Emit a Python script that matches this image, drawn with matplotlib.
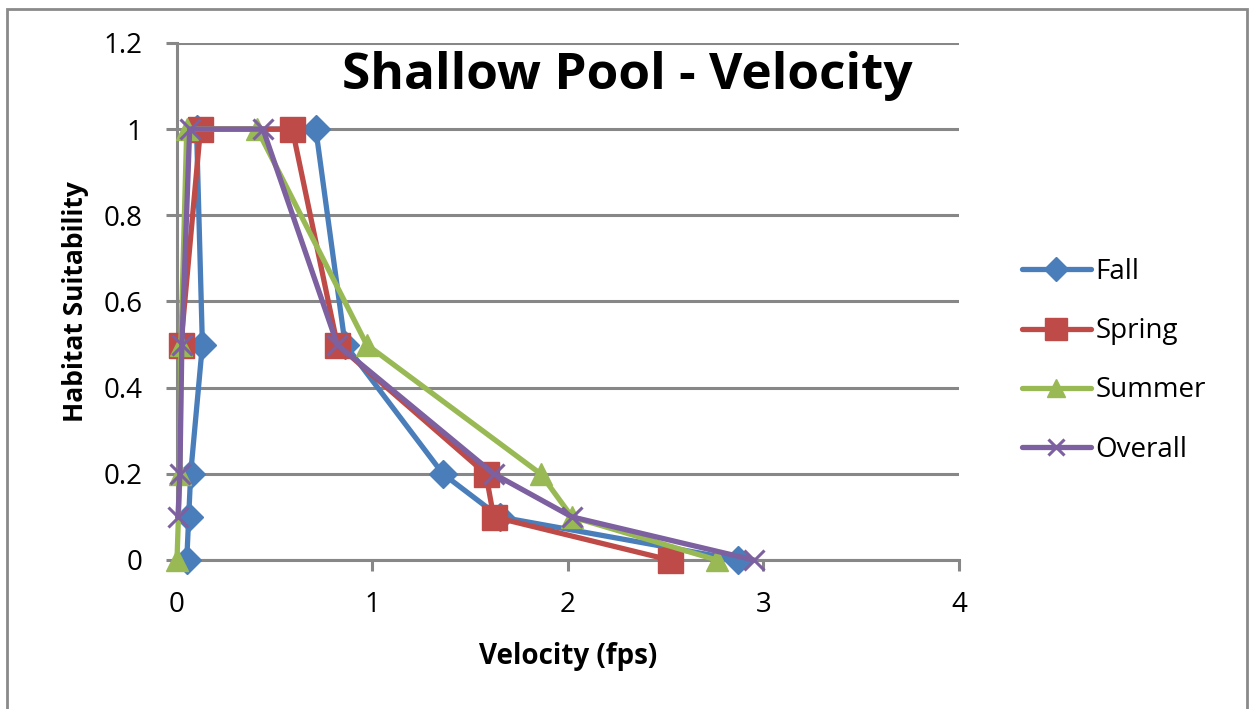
import matplotlib
matplotlib.use("Agg")
import matplotlib.pyplot as plt
from matplotlib.patches import Rectangle

# Data
fall_x = [0.05, 0.06, 0.07, 0.13, 0.10, 0.71, 0.86, 1.36, 1.65, 2.87]
fall_y = [0.0, 0.1, 0.2, 0.5, 1.0, 1.0, 0.5, 0.2, 0.1, 0.0]
spring_x = [0.02, 0.12, 0.59, 0.82, 1.58, 1.62, 2.52]
spring_y = [0.5, 1.0, 1.0, 0.5, 0.2, 0.1, 0.0]
summer_x = [0.0, 0.015, 0.02, 0.05, 0.41, 0.97, 1.86, 2.02, 2.76]
summer_y = [0.0, 0.2, 0.5, 1.0, 1.0, 0.5, 0.2, 0.1, 0.0]
overall_x = [0.005, 0.015, 0.025, 0.065, 0.44, 0.82, 1.62, 2.02, 2.95]
overall_y = [0.1, 0.2, 0.5, 1.0, 1.0, 0.5, 0.2, 0.1, 0.0]

series = [
    ("Fall", fall_x, fall_y, "#4A7EBB", "D", 14),
    ("Spring", spring_x, spring_y, "#BE4B48", "s", 18),
    ("Summer", summer_x, summer_y, "#98B954", "^", 16),
    ("Overall", overall_x, overall_y, "#7D60A0", "x", 14),
]

x_ticks = [0, 1, 2, 3, 4]
y_ticks = [0, 0.2, 0.4, 0.6, 0.8, 1.0, 1.2]
y_tick_labels = ["0", "0.2", "0.4", "0.6", "0.8", "1", "1.2"]

plt.rcParams['font.family'] = ['Open Sans', 'DejaVu Sans']

fig = plt.figure(figsize=(12.49, 7.09), dpi=100)
ax = fig.add_axes([0.1417, 0.2102, 0.6261, 0.7292])

grid_c = "#878787"
for name, xs, ys, c, m, ms in series:
    if m == "x":
        ax.plot(xs, ys, color=c, lw=3.8, marker=m, ms=ms, mew=2.2, mec=c, label=name,
                solid_joinstyle='round', solid_capstyle='round', clip_on=False, zorder=3)
    else:
        ax.plot(xs, ys, color=c, lw=3.8, marker=m, ms=ms, mec=c, mfc=c, label=name,
                solid_joinstyle='round', solid_capstyle='round', clip_on=False, zorder=3)

ax.set_xlim(0, 4)
ax.set_ylim(0, 1.2)
ax.set_xticks(x_ticks)
ax.set_xticklabels([str(t) for t in x_ticks])
ax.set_yticks(y_ticks)
ax.set_yticklabels(y_tick_labels)
ax.yaxis.grid(True, color=grid_c, lw=2.2)
ax.set_axisbelow(True)
for s in ["top", "right"]:
    ax.spines[s].set_visible(False)
for s in ["left", "bottom"]:
    ax.spines[s].set_color(grid_c)
    ax.spines[s].set_linewidth(2.2)
ax.tick_params(axis='both', colors=grid_c, width=2.2, length=8, labelcolor='black',
               labelsize=20)
ax.tick_params(axis='x', pad=14)
ax.tick_params(axis='y', pad=17)

ax.set_xlabel("Velocity (fps)", fontsize=20, fontweight='bold', labelpad=17)
ax.set_ylabel("Habitat Suitability", fontsize=19, fontweight='bold', labelpad=10)

fig.text(0.502, 0.893, "Shallow Pool - Velocity", fontsize=37, fontweight='bold',
         ha='center', va='center')

leg = fig.legend(loc='center left', bbox_to_anchor=(0.798, 0.491), frameon=False,
                 fontsize=20, handlelength=2.5, labelspacing=1.12, handletextpad=0.15,
                 markerscale=0.85)

fig.patches.append(Rectangle((0.006, -0.05), 0.992, 1.038, transform=fig.transFigure,
                             fill=False, edgecolor="#8a8a8a", lw=2, figure=fig))

fig.savefig("out.png", dpi=100)
